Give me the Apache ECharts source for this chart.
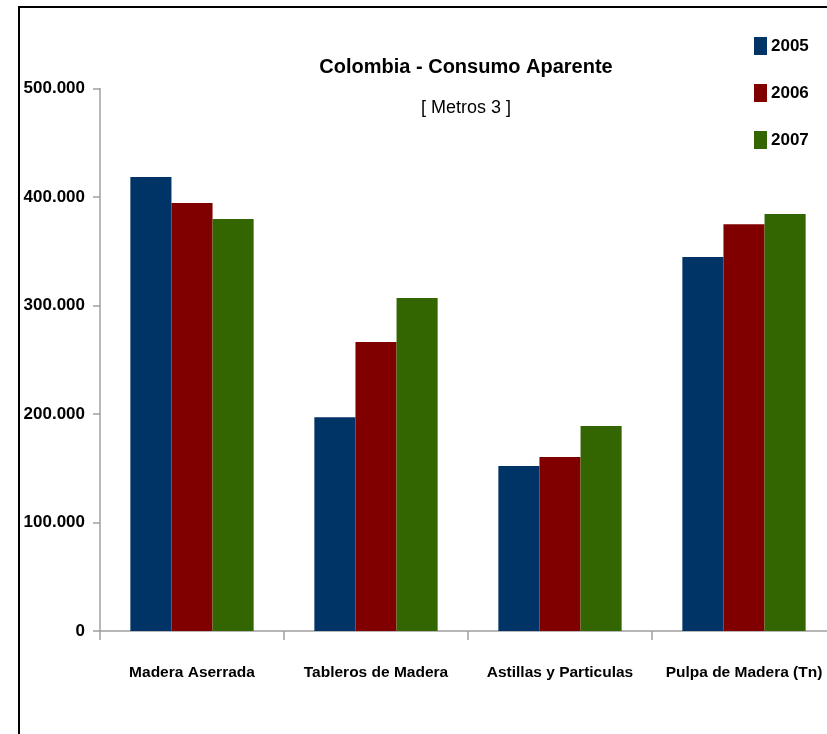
<!DOCTYPE html>
<html><head><meta charset="utf-8">
<script src="https://cdn.jsdelivr.net/npm/echarts@6/dist/echarts.min.js"></script>
<style>html,body{margin:0;padding:0;background:#fff;overflow:hidden}#c{width:840px;height:734px}</style>
</head><body><div id="c"></div>
<script>
const categories = ['Madera Aserrada', 'Tableros de Madera', 'Astillas y Particulas', 'Pulpa de Madera (Tn)'];
const years = ['2005', '2006', '2007'];
const v2005 = [418500, 197000, 152000, 344700];
const v2006 = [394500, 266400, 160400, 375000];
const v2007 = [379700, 307000, 189000, 384300];
const yTicks = [0, 100000, 200000, 300000, 400000, 500000];
const colors = ['#003366', '#800000', '#336600'];
const FONT = '"Liberation Sans", Arial, sans-serif';

function fmt(v){ return String(v).replace(/\B(?=(\d{3})+(?!\d))/g, '.'); }

const chart = echarts.init(document.getElementById('c'));
const seriesVals = [v2005, v2006, v2007];
chart.setOption({
  animation: false,
  color: colors,
  title: [
    {text: 'Colombia - Consumo Aparente', left: 461, top: 52, textAlign: 'center',
     textStyle: {fontFamily: FONT, fontSize: 20, fontWeight: 'bold', color: '#000'}},
    {text: '[ Metros 3 ]', left: 461, top: 94, textAlign: 'center',
     textStyle: {fontFamily: FONT, fontSize: 18, fontWeight: 'normal', color: '#000'}}
  ],
  legend: {
    orient: 'vertical', left: 749, top: 32, itemWidth: 13, itemHeight: 18, itemGap: 29,
    icon: 'rect', data: years,
    textStyle: {fontFamily: FONT, fontSize: 17, fontWeight: 'bold', color: '#000', padding: [0,0,0,-1]}
  },
  graphic: [{type: 'rect', shape: {x: 19, y: 7, width: 900, height: 800},
             style: {fill: 'none', stroke: '#000', lineWidth: 2}, silent: true, z: 100}],
  grid: {left: 100, width: 736, top: 88.5, bottom: 103},
  xAxis: {
    type: 'category', data: categories,
    axisLine: {lineStyle: {color: '#a0a0a0', width: 1.5}},
    axisTick: {show: true, length: 9, interval: 0, lineStyle: {color: '#a0a0a0', width: 1.5}},
    axisLabel: {margin: 34, interval: 0, fontFamily: FONT, fontSize: 15.5, fontWeight: 'bold', color: '#000'}
  },
  yAxis: {
    type: 'value', min: 0, max: 500000, interval: 100000,
    axisLine: {show: true, lineStyle: {color: '#a0a0a0', width: 1.5}},
    axisTick: {show: true, length: 7, lineStyle: {color: '#a0a0a0', width: 1.5}},
    splitLine: {show: false},
    axisLabel: {margin: 15, fontFamily: FONT, fontSize: 17, fontWeight: 'bold', color: '#000',
      formatter: v => yTicks.includes(v) ? fmt(v) : ''}
  },
  series: years.map((y, i) => ({
    name: y, type: 'bar', data: seriesVals[i], barGap: '0%', barCategoryGap: '33%'
  }))
});
</script></body></html>
